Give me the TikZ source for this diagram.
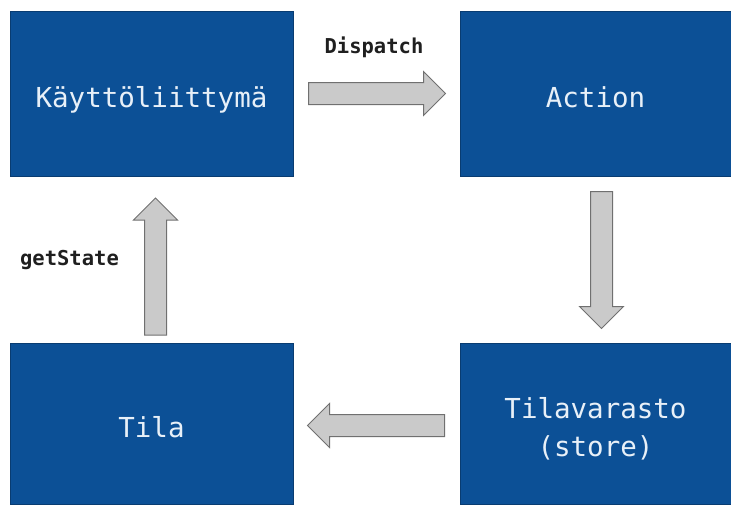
\documentclass[tikz,border=0pt]{standalone}
\usepackage{fontspec}
\setmonofont{DejaVu Sans Mono}
\usetikzlibrary{shapes.arrows,calc,positioning}
\definecolor{boxblue}{RGB}{12,80,150}
\definecolor{boxtext}{RGB}{232,240,248}
\definecolor{arrowfill}{RGB}{202,202,202}
\definecolor{arrowline}{RGB}{112,112,112}
\begin{document}
\begin{tikzpicture}[x=1pt,y=-1pt,
	block/.style={rectangle,fill=boxblue,draw=boxblue!75!black,line width=0.6pt,text=boxtext,
	font=\ttfamily\fontsize{27.5}{38}\selectfont,align=center,inner sep=0pt,text height=34pt,text depth=7pt},
	fat/.style={single arrow,draw=arrowline,fill=arrowfill,line width=1pt,inner xsep=0pt,inner ysep=10.5pt,
	minimum height=137pt,single arrow head extend=11pt,single arrow tip angle=90},
	lbl/.style={font=\ttfamily\bfseries\fontsize{20.5}{24}\selectfont,text=black!88,inner sep=0pt}]
\useasboundingbox (0,0) rectangle (731,504);
\node[block,minimum width=283pt,minimum height=165pt] (ui) at (151.5,93.5) {Käyttöliittymä};
\node[block,minimum width=271pt,minimum height=165pt] (act) at (595.5,93.5) {Action};
\node[block,minimum width=283pt,minimum height=161pt] (tila) at (151.5,423.5) {Tila};
\node[block,minimum width=271pt,minimum height=161pt,text height=73pt] (store) at (595.5,423.5) {Tilavarasto\\(store)};
\node[fat] (disp) at ($(ui.east)!0.5!(act.west)+(-5,0)$) {};
\node[fat,rotate=-90] (down) at ($(act.south)!0.5!(store.north)+(6,-5)$) {};
\node[fat,rotate=180] (back) at ($(tila.east)!0.5!(store.west)+(5,2)$) {};
\node[fat,rotate=90] (up) at ($(ui.south)!0.5!(tila.north)+(4,12.5)$) {};
\node[lbl] (displbl) at ($(disp)+(2.5,-46.5)$) {Dispatch};
\node[lbl] (getlbl) at ($(up)+(-86,-12)$) {getState};
\end{tikzpicture}
\end{document}
